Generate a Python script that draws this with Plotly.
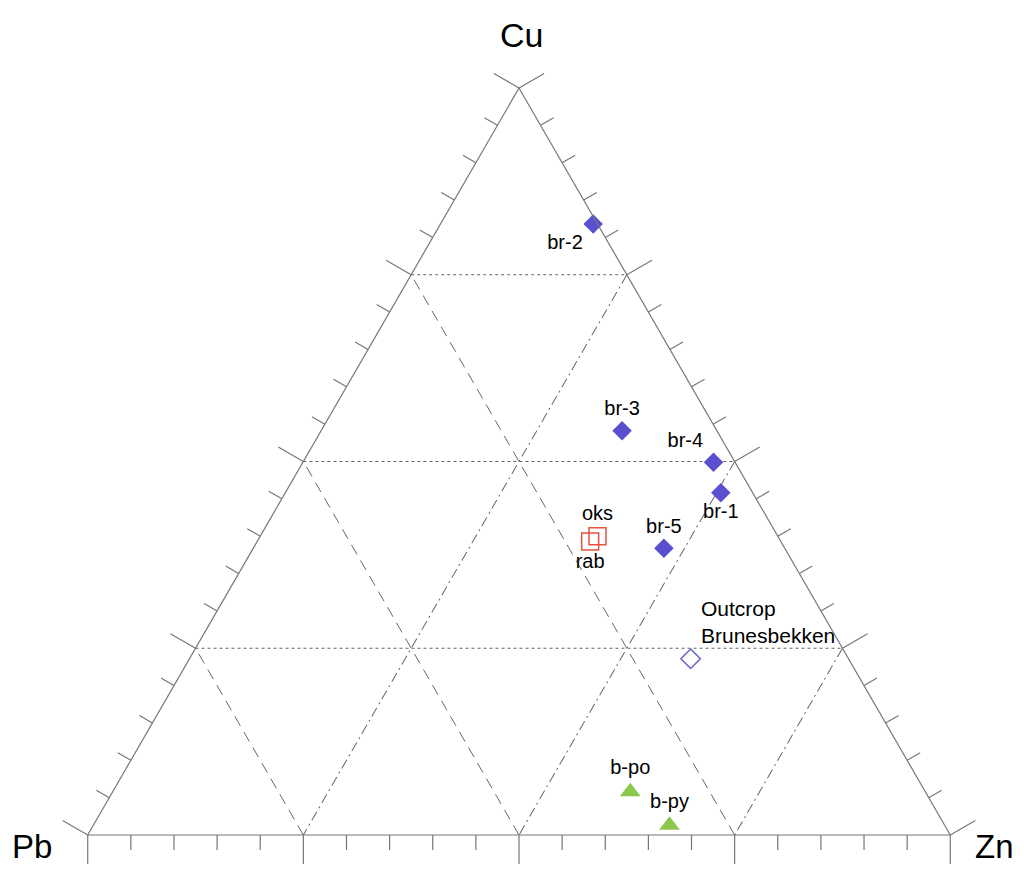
import plotly.graph_objects as go

# ---- data (fractions; Cu + Pb + Zn = 1) ----
br_labels = ["br-1", "br-2", "br-3", "br-4", "br-5"]
br_cu = [0.458, 0.818, 0.541, 0.499, 0.384]
br_pb = [0.037, 0.005, 0.110, 0.025, 0.140]
br_zn = [0.505, 0.177, 0.349, 0.476, 0.476]

outcrop_labels = ["Outcrop<br>Brunesbekken"]
outcrop_cu = [0.236]
outcrop_pb = [0.183]
outcrop_zn = [0.581]

sq_labels = ["oks", "rab"]
sq_cu = [0.400, 0.393]
sq_pb = [0.209, 0.221]
sq_zn = [0.391, 0.386]

tri_labels = ["b-po", "b-py"]
tri_cu = [0.058, 0.013]
tri_pb = [0.342, 0.319]
tri_zn = [0.600, 0.668]

major_ticks = [0, 0.25, 0.5, 0.75, 1.0]
minor_ticks = [i / 20 for i in range(21)]
grid_vals = [0.25, 0.5, 0.75]

axis_names = ["Cu", "Pb", "Zn"]

# ---- styles / geometry ----
FW, FH = 1008, 860          # page body has an 8px margin
OFF = 8
GRAY = "#777777"
GRID = "#666666"
FONT = "Liberation Sans, Arial, sans-serif"
label_pos = {
    "br-1": "bottom center", "br-2": "bottom left", "br-3": "top center",
    "br-4": "top left", "br-5": "top center",
    "oks": "top center", "rab": "bottom center",
    "b-po": "top center", "b-py": "top center",
    "Outcrop<br>Brunesbekken": "top right",
}


def px_x(p):
    return (p - OFF) / FW


def px_y(p):
    return (FH - (p - OFF)) / FH


CX = 519
TOP_PX, BOT_PX = 88, 835
tri_h = BOT_PX - TOP_PX
tri_w = tri_h / (3 ** 0.5 / 2)
dom = dict(x=[px_x(CX - tri_w / 2), px_x(CX + tri_w / 2)],
           y=[px_y(BOT_PX), px_y(TOP_PX)])

# outer (invisible) ternary, concentric and scaled by K, used to hold the
# outward tick marks (lines are always clipped to their own triangle)
inr = tri_h / 3
K = (inr + 31) / inr
cy = TOP_PX + 2 * inr
h2 = tri_h * K
w2 = h2 / (3 ** 0.5 / 2)
dom2 = dict(x=[px_x(CX - w2 / 2), px_x(CX + w2 / 2)],
            y=[px_y(cy + h2 / 3), px_y(cy - 2 * h2 / 3)])

T_MAJOR = 29 / tri_h
T_MINOR = 15 / tri_h


def to_outer(p):
    g = 1 / 3
    return tuple(g + (v - g) / K for v in p)


def ax(dash):
    return dict(
        title=dict(text=""), min=0, showline=True, linecolor=GRAY, linewidth=1.2,
        ticks="", tickvals=grid_vals, showticklabels=False, showgrid=True,
        gridcolor=GRID, gridwidth=1, griddash=dash,
    )


def ax_hidden():
    return dict(title=dict(text=""), min=0, showline=False, ticks="",
                showticklabels=False, showgrid=False)


# tick segments, perpendicular to each side, pointing outward
def tick_segments():
    A, B, C = [], [], []
    for v in minor_ticks:
        t = T_MAJOR if any(abs(v - m) < 1e-9 for m in major_ticks) else T_MINOR
        sides = [
            ((v, 1 - v, 0.0), (t / 2, t / 2, -t)),      # Cu-Pb side
            ((v, 0.0, 1 - v), (t / 2, -t, t / 2)),      # Cu-Zn side
            ((0.0, v, 1 - v), (-t, t / 2, t / 2)),      # Pb-Zn side
        ]
        for base, d in sides:
            end = tuple(base[i] + d[i] for i in range(3))
            p0, p1 = to_outer(base), to_outer(end)
            A += [p0[0], p1[0], None]
            B += [p0[1], p1[1], None]
            C += [p0[2], p1[2], None]
    return A, B, C


ta, tb, tc = tick_segments()

fig = go.Figure()

fig.add_trace(go.Scatterternary(
    a=ta, b=tb, c=tc, mode="lines", line=dict(color=GRAY, width=1.2),
    hoverinfo="skip", showlegend=False, connectgaps=False,
    subplot="ternary2"))

fig.add_trace(go.Scatterternary(
    a=br_cu, b=br_pb, c=br_zn, text=br_labels, mode="markers+text",
    textposition=[label_pos[t] for t in br_labels],
    marker=dict(symbol="diamond", size=15, color="#5a50cf"),
    textfont=dict(family=FONT, size=20, color="black"),
    cliponaxis=False, showlegend=False))

fig.add_trace(go.Scatterternary(
    a=outcrop_cu, b=outcrop_pb, c=outcrop_zn, text=outcrop_labels,
    mode="markers+text",
    textposition=[label_pos[t] for t in outcrop_labels],
    marker=dict(symbol="diamond-open", size=15, color="#6464c4",
                line=dict(width=1.5)),
    textfont=dict(family=FONT, size=21, color="black"),
    cliponaxis=False, showlegend=False))

fig.add_trace(go.Scatterternary(
    a=sq_cu, b=sq_pb, c=sq_zn, text=sq_labels, mode="markers+text",
    textposition=[label_pos[t] for t in sq_labels],
    marker=dict(symbol="square-open", size=17, color="#e5533d",
                line=dict(width=1.5)),
    textfont=dict(family=FONT, size=20, color="black"),
    cliponaxis=False, showlegend=False))

fig.add_trace(go.Scatterternary(
    a=tri_cu, b=tri_pb, c=tri_zn, text=tri_labels, mode="markers+text",
    textposition=[label_pos[t] for t in tri_labels],
    marker=dict(symbol="triangle-up", size=18, color="#8cc84b"),
    textfont=dict(family=FONT, size=20, color="black"),
    cliponaxis=False, showlegend=False))

fig.update_layout(
    width=FW, height=FH, margin=dict(l=0, r=0, t=0, b=0),
    paper_bgcolor="white", plot_bgcolor="white",
    ternary=dict(
        domain=dom, sum=1, bgcolor="white",
        aaxis=ax("dot"),
        baxis=ax("11px,7px"),
        caxis=ax("10px,4px,2px,4px"),
    ),
    ternary2=dict(
        domain=dom2, sum=1, bgcolor="rgba(0,0,0,0)",
        aaxis=ax_hidden(), baxis=ax_hidden(), caxis=ax_hidden(),
    ),
    annotations=[
        dict(text=axis_names[0], x=px_x(521), y=px_y(35), font=dict(size=34)),
        dict(text=axis_names[1], x=px_x(32), y=px_y(846)),
        dict(text=axis_names[2], x=px_x(994), y=px_y(846)),
    ],
    showlegend=False,
)
fig.update_annotations(xref="paper", yref="paper", showarrow=False,
                       xanchor="center", yanchor="middle",
                       font=dict(family=FONT, color="black"))
fig.update_annotations(selector=dict(text=axis_names[1]), font_size=33)
fig.update_annotations(selector=dict(text=axis_names[2]), font_size=33)

fig.write_html("out.html")
